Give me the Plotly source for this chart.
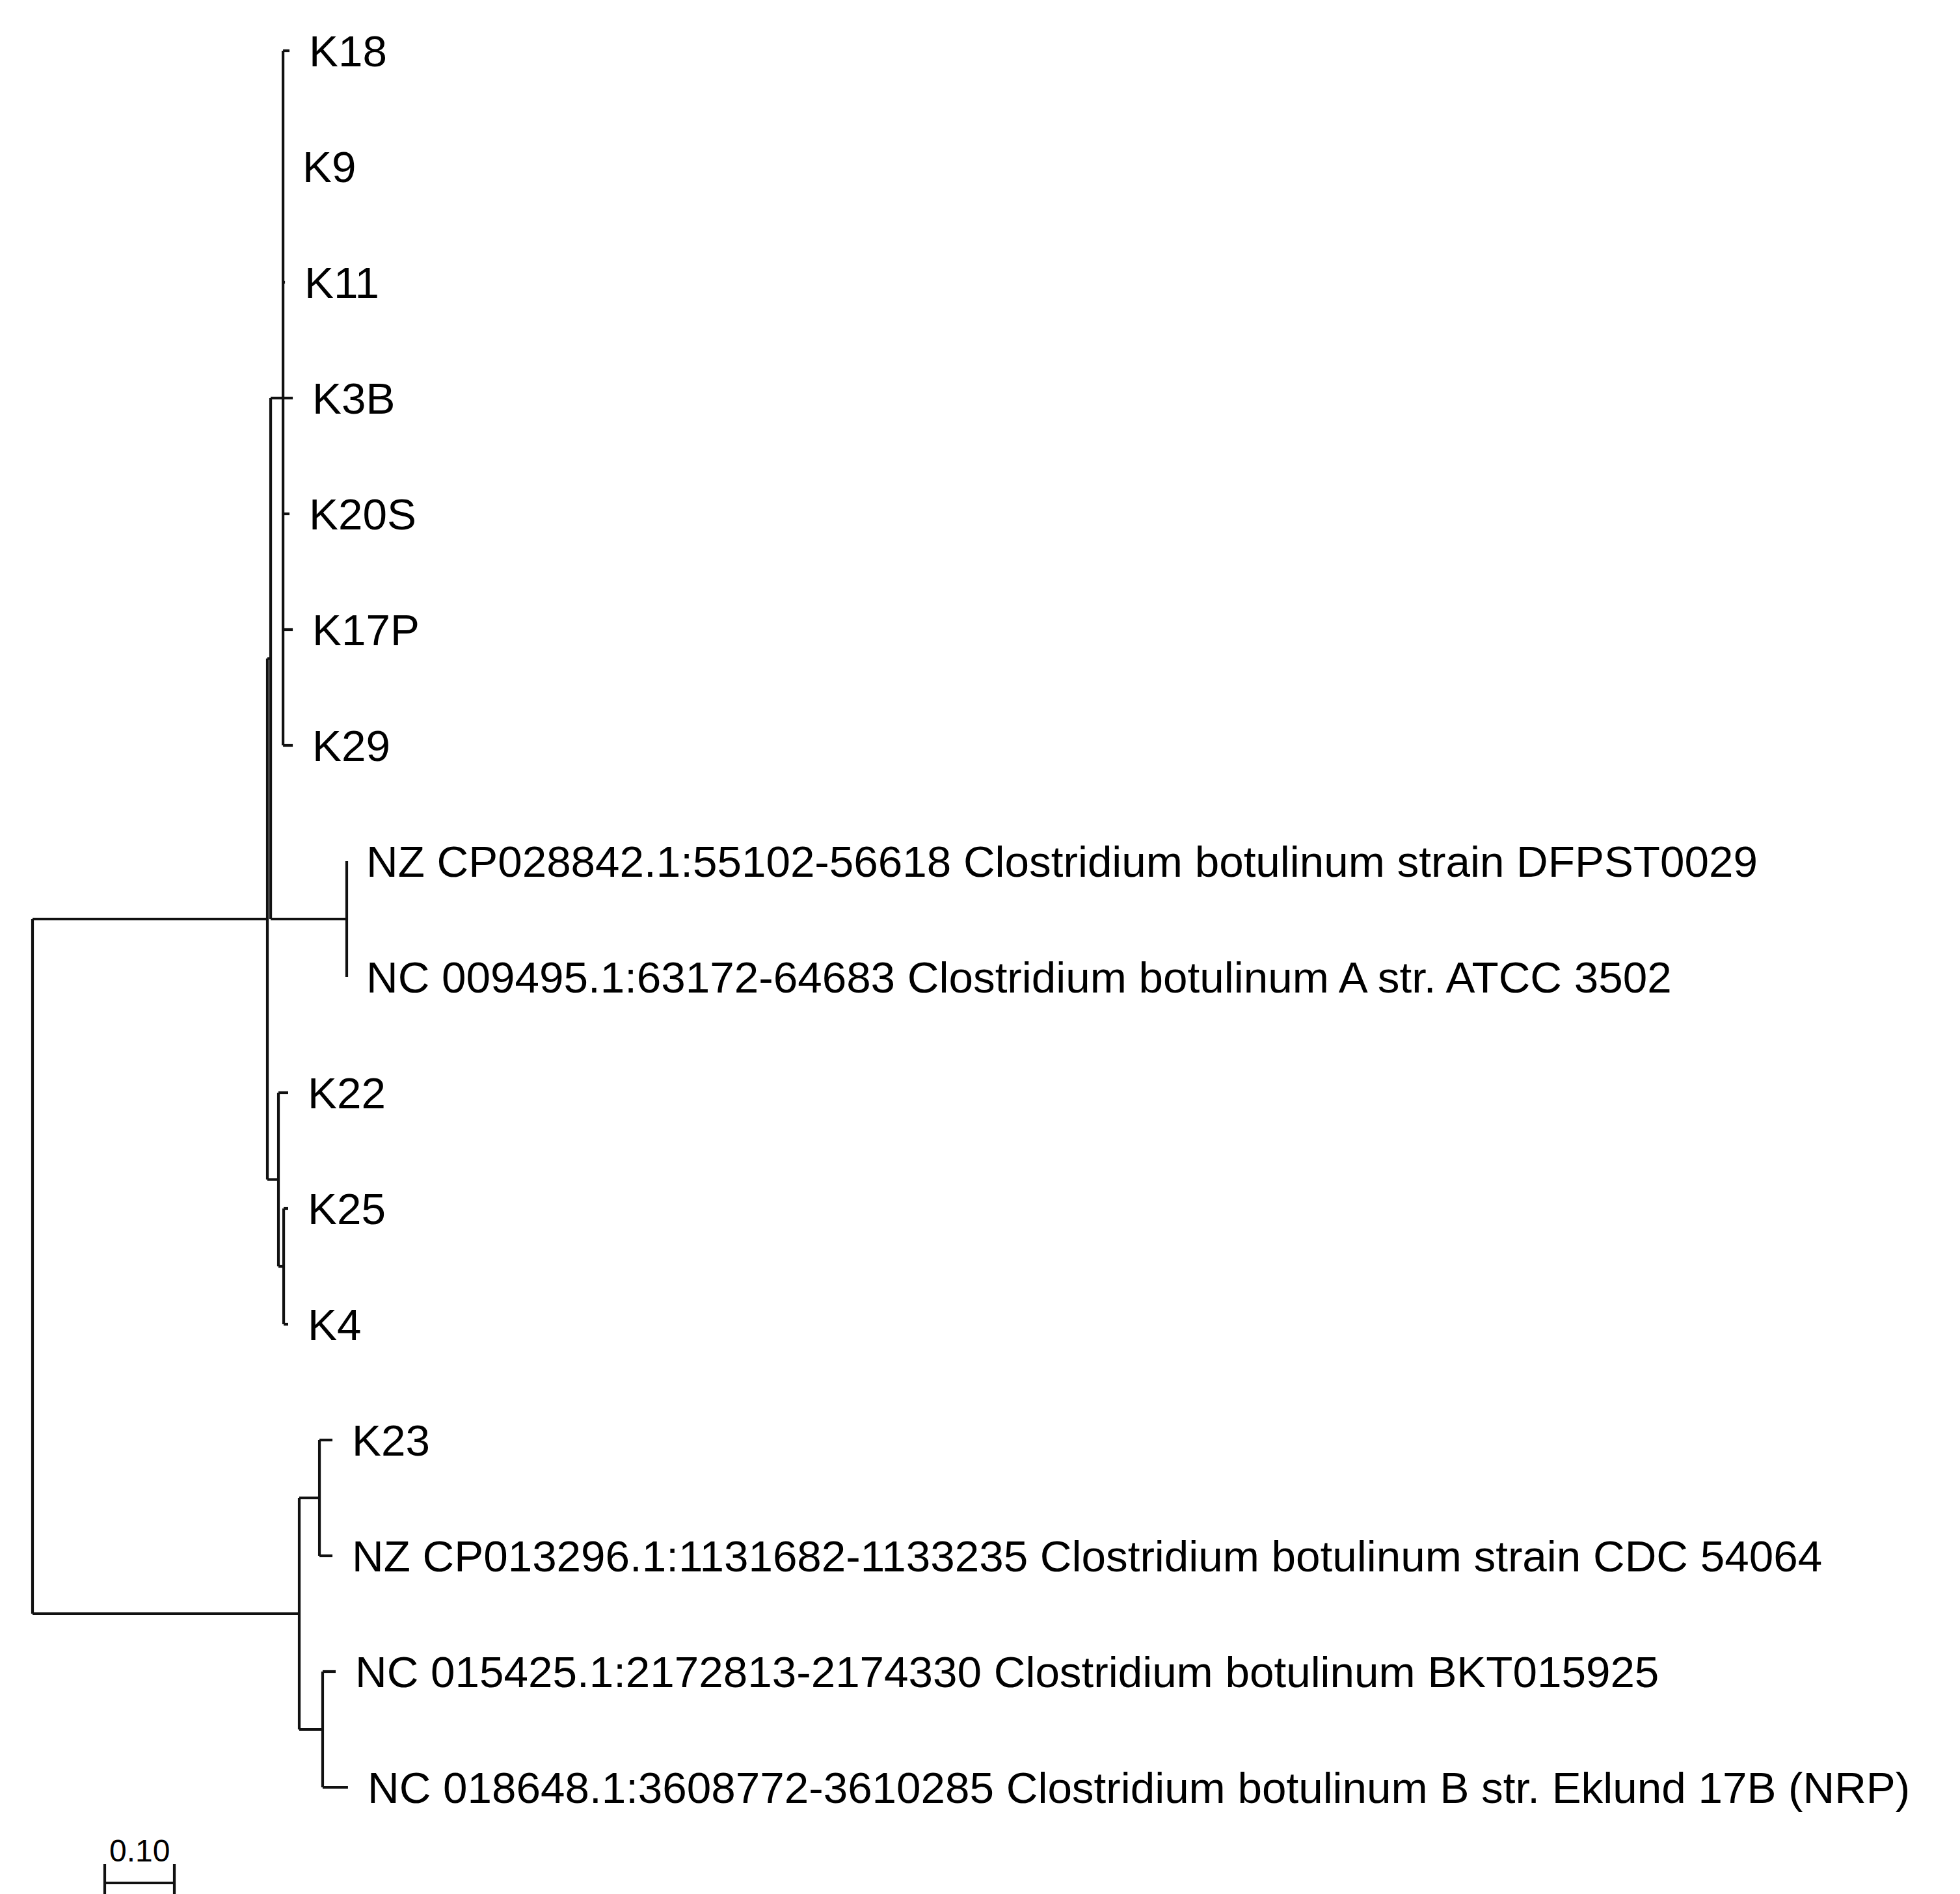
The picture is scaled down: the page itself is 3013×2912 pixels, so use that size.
import plotly.graph_objects as go

# ---- tree data (branch lengths in substitutions/site) ----
node_names = ["root", "U", "N1", "N2", "K18", "K9", "K11", "K3B", "K20S", "K17P", "K29",
              "NZNC", "NZ1", "NC1", "K22c", "K22", "K25K4", "K25", "K4",
              "L", "K23c", "K23", "NZ2", "NCc", "NC2", "NC3"]
parents = [None, "root", "U", "N1", "N2", "N2", "N2", "N2", "N2", "N2", "N2",
           "N1", "NZNC", "NZNC", "U", "K22c", "K22c", "K25K4", "K25K4",
           "root", "L", "K23c", "K23c", "L", "NCc", "NCc"]
branch_lengths = [0.0, 0.3374, 0.0047, 0.0178, 0.0093, 0.0, 0.0028, 0.0140, 0.0093, 0.0140, 0.0140,
                  0.1093, 0.0, 0.0, 0.0159, 0.0140, 0.0075, 0.0065, 0.0065,
                  0.3832, 0.0290, 0.0187, 0.0187, 0.0336, 0.0187, 0.0364]
tip_labels = {
    "K18": "K18", "K9": "K9", "K11": "K11", "K3B": "K3B", "K20S": "K20S", "K17P": "K17P", "K29": "K29",
    "NZ1": "NZ CP028842.1:55102-56618 Clostridium botulinum strain DFPST0029",
    "NC1": "NC 009495.1:63172-64683 Clostridium botulinum A str. ATCC 3502",
    "K22": "K22", "K25": "K25", "K4": "K4", "K23": "K23",
    "NZ2": "NZ CP013296.1:1131682-1133235 Clostridium botulinum strain CDC 54064",
    "NC2": "NC 015425.1:2172813-2174330 Clostridium botulinum BKT015925",
    "NC3": "NC 018648.1:3608772-3610285 Clostridium botulinum B str. Eklund 17B (NRP)",
}
scale_bar_length = 0.10
scale_bar_label = "0.10"

# ---- layout of the tree ----
children = {n: [] for n in node_names}
blen = dict(zip(node_names, branch_lengths))
for n, p in zip(node_names, parents):
    if p is not None:
        children[p].append(n)

xpos, ypos = {}, {}
tip_counter = [0]


def place(node, depth):
    xpos[node] = depth
    if not children[node]:
        ypos[node] = tip_counter[0]
        tip_counter[0] += 1
    else:
        for c in children[node]:
            place(c, depth + blen[c])
        ypos[node] = (ypos[children[node][0]] + ypos[children[node][-1]]) / 2.0


place("root", 0.0)

xs, ys = [], []
for n, p in zip(node_names, parents):
    if p is not None:
        xs += [xpos[p], xpos[n], None]
        ys += [ypos[n], ypos[n], None]
    if children[n]:
        c0, c1 = children[n][0], children[n][-1]
        xs += [xpos[n], xpos[n], None]
        ys += [ypos[c0], ypos[c1], None]

W, H = 3013, 2912
PX_PER_UNIT = 1070.0
ROOT_PX = 42.0
TOP_PX = 70.0
ROW_PX = 178.0
LINE_W = 4.2

fig = go.Figure()
fig.add_trace(go.Scatter(x=xs, y=ys, mode="lines",
                         line=dict(color="#111111", width=LINE_W),
                         hoverinfo="skip", showlegend=False))

# scale bar
sb_x0 = 111 / PX_PER_UNIT
sb_x1 = sb_x0 + scale_bar_length
sb_y = 2817 / ROW_PX
sb_ytop = 2788 / ROW_PX
sb_ybot = 2860 / ROW_PX
fig.add_trace(go.Scatter(x=[sb_x0, sb_x1, None, sb_x0, sb_x0, None, sb_x1, sb_x1],
                         y=[sb_y, sb_y, None, sb_ytop, sb_ybot, None, sb_ytop, sb_ybot],
                         mode="lines", line=dict(color="#111111", width=LINE_W),
                         hoverinfo="skip", showlegend=False))

annotations = []
gap = 28 / PX_PER_UNIT
for n in node_names:
    if not children[n]:
        annotations.append(dict(x=xpos[n] + gap, y=ypos[n], text=tip_labels[n],
                                xanchor="left", yanchor="middle", showarrow=False,
                                font=dict(family="Arial, Liberation Sans, sans-serif",
                                          size=67.4, color="#000000")))
annotations.append(dict(x=(sb_x0 + sb_x1) / 2, y=2767 / ROW_PX, text=scale_bar_label,
                        xanchor="center", yanchor="middle", showarrow=False,
                        font=dict(family="Arial, Liberation Sans, sans-serif",
                                  size=48, color="#000000")))

fig.update_layout(
    width=W, height=H,
    margin=dict(l=0, r=0, t=0, b=0),
    paper_bgcolor="white", plot_bgcolor="white",
    xaxis=dict(range=[-ROOT_PX / PX_PER_UNIT, (W - ROOT_PX) / PX_PER_UNIT],
               visible=False, showgrid=False, zeroline=False, fixedrange=True),
    yaxis=dict(range=[(H - TOP_PX) / ROW_PX, -TOP_PX / ROW_PX],
               visible=False, showgrid=False, zeroline=False, fixedrange=True),
    annotations=annotations,
    showlegend=False,
)

fig.write_html("out.html")
